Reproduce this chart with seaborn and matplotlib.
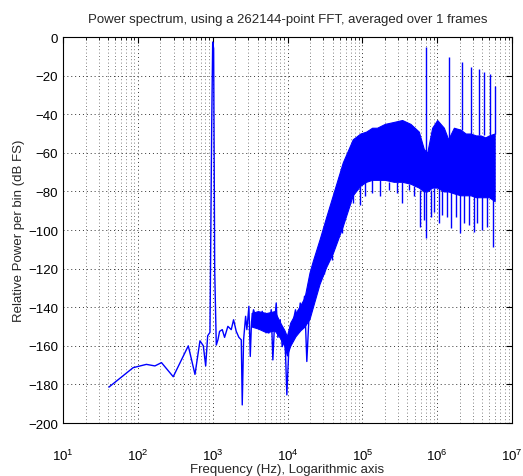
import numpy as np
import pandas as pd
import seaborn as sns
import matplotlib.pyplot as plt
from matplotlib.ticker import FixedLocator, MultipleLocator

# trace below ~20 kHz: low-frequency part, 1 kHz tone, noisy floor (Hz, dB FS)
line_freq = [41, 86.6, 130, 169, 207, 297, 472, 580, 676, 750, 806, 857,
             920, 970, 1000, 1030, 1064, 1117, 1175, 1236, 1343, 1442, 1596,
             1770, 1901, 2065, 2239, 2410, 2483, 2588, 2754, 2864, 3048, 3177,
             3304, 3516, 3741, 4018, 4325, 4592, 4932, 5200, 5623, 6053, 6368,
             6714, 7063, 7430, 7980, 8492, 9120, 9397, 9795, 10400, 10860,
             11780, 12790, 13740, 14790, 15700, 16870, 18110, 19680, 21780]
line_db = [-181.4, -171.3, -169.6, -170.4, -168.7, -176, -160, -174.8, -157.4,
           -160, -170.4, -154.8, -153, -46, -2.6, -6, -121, -159.6, -156.9,
           -152.5, -151.6, -155.6, -149.9, -151.6, -146.5, -152.5, -155.6,
           -156.9, -190.6, -156.9, -144.7, -151.6, -139.5, -165.5, -147.4,
           -141.3, -144.7, -143, -146.5, -142.1, -149.9, -145.6, -153.4,
           -141.3, -167.3, -148.2, -137.8, -155.6, -146.5, -160.4, -156.9,
           -163.8, -185.4, -162.1, -151.6, -148.2, -141.3, -149.9, -137.8,
           -146.5, -134.3, -168.1, -139.5, -130.9]

# dense noise band: upper and lower edges
band_freq = [3304, 4018, 5200, 6714, 7980, 9120, 9795, 10860, 12790, 14790,
             16870, 19680, 21780, 26730, 33000, 40270, 54700, 74470, 94000,
             112500, 135000, 157200, 200000, 262800, 340000, 439500, 568200,
             662800, 734700, 857000, 1000000, 1228000, 1404000, 1672000,
             2054000, 2400000, 2796000, 3300000, 3806000, 4400000, 4920000,
             5860000]
band_hi = [-143, -142, -143, -142, -148, -152, -155, -148, -143, -139, -135,
           -122, -116, -105, -93, -82, -65, -53, -50, -49, -47, -47, -45, -44,
           -43, -45, -49, -58, -60, -47, -43, -47, -53, -47, -48, -50, -50,
           -51, -51, -52, -51, -50]
band_lo = [-150, -151, -153, -152, -156, -160, -165, -160, -155, -152, -150,
           -146, -140, -128, -119, -112, -98, -82, -77, -75, -74, -74, -74,
           -75, -75, -76, -78, -80, -80, -78, -78, -80, -80, -81, -82, -82,
           -82, -83, -83, -83, -83, -85]

# downward spikes below the band
dip_freq = [30350, 39250, 53430, 74990, 94000, 109600, 134600, 174200, 225400,
            291300, 339800, 417800, 487500, 598400, 662800, 719500, 814700,
            901800, 1052000, 1167000, 1361000, 1510000, 1762000, 2014000,
            2276000, 2656000, 3097000, 3436000, 4008000, 4677000, 5623000]
dip_top = [-120, -110, -96, -80, -76, -75, -74, -74, -75, -75, -75, -76, -77,
           -79, -80, -80, -79, -78, -78, -79, -80, -80, -81, -81, -82, -82,
           -82, -82, -83, -83, -84]
dip_db = [-122.6, -115.7, -101.7, -86.1, -87, -82.6, -80.9, -82.6, -79.1,
          -80.9, -86.1, -79.1, -82.6, -98.3, -94.8, -104.3, -93, -90.4, -96.5,
          -92.2, -93, -99.1, -93, -101.7, -96.5, -97.4, -100.9, -96.5, -100,
          -98.3, -108.7]

# high-frequency tones
tone_freq = [712300, 1433000, 2162000, 2796000, 3614000, 4217000, 5023000, 5860000]
tone_base = [-60, -53, -48, -50, -51, -51, -51, -50]
tone_db = [-5.2, -10.4, -13, -15.7, -16.5, -18.3, -19.1, -25.2]

decades = [1e1, 1e2, 1e3, 1e4, 1e5, 1e6, 1e7]

sns.set_style('white')
plt.rcParams['font.family'] = ['Liberation Sans', 'DejaVu Sans']
plt.rcParams['mathtext.fontset'] = 'custom'
plt.rcParams['mathtext.rm'] = 'Liberation Sans'

fig = plt.figure(figsize=(5.23, 4.77), dpi=100)
ax = fig.add_axes([0.1205, 0.111, 0.8585, 0.8093])

blue = (0, 0, 1)
line_df = pd.DataFrame({'f': line_freq, 'db': line_db})
sns.lineplot(data=line_df, x='f', y='db', sort=False, estimator=None,
             color=blue, linewidth=1, ax=ax)
ax.fill_between(band_freq, band_lo, band_hi, color=blue, linewidth=0.8,
                edgecolor=blue)
ax.vlines(dip_freq, dip_top, dip_db, color=blue, linewidth=1)
ax.vlines(tone_freq, tone_base, tone_db, color=blue, linewidth=1)

ax.set_xscale('log')
ax.set_xlim(10, 1e7)
ax.set_ylim(-200, 0)
ax.yaxis.set_major_locator(MultipleLocator(20))
ax.xaxis.set_major_locator(FixedLocator(decades))
minor = [m * d for d in decades[:-1] for m in range(2, 10)]
ax.xaxis.set_minor_locator(FixedLocator(minor))
ax.set_xticklabels(['$10^{%d}$' % int(np.log10(d)) for d in decades])

dots = (0, (1, 3))
ax.grid(True, which='major', axis='both', color='#333333', linestyle=dots, linewidth=0.7)
ax.grid(True, which='minor', axis='x', color='#555555', linestyle=dots, linewidth=0.6)
ax.tick_params(which='both', direction='in', top=True, right=True,
               colors='k', labelsize=9.5)
ax.tick_params(which='major', length=4)
ax.tick_params(which='minor', length=2)
ax.tick_params(axis='x', which='major', pad=18)
for s in ax.spines.values():
    s.set_color('k')
    s.set_linewidth(0.8)

ax.set_title('Power spectrum, using a 262144-point FFT, averaged over 1 frames',
             fontsize=9.5, pad=11)
ax.set_xlabel('Frequency (Hz), Logarithmic axis', fontsize=9.5, labelpad=0)
ax.set_ylabel('Relative Power per bin (dB FS)', fontsize=9.5, labelpad=2)

fig.savefig('out.png', dpi=100)
